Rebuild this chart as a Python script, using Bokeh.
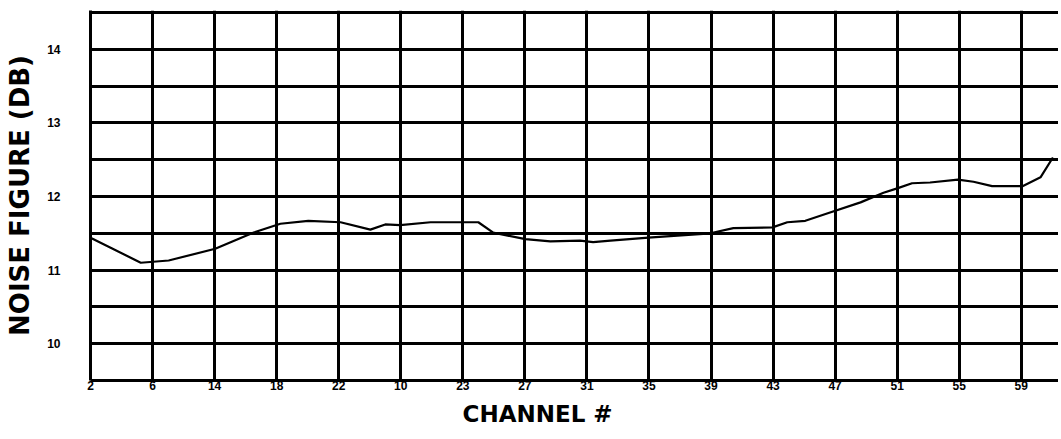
from bokeh.plotting import figure
from bokeh.models import FixedTicker, Range1d, Title
from bokeh.embed import file_html
from bokeh.resources import INLINE

# Channel tick labels (as printed on the chart), one per grid column
channel_labels = ["2", "6", "14", "18", "22", "10", "23", "27", "31",
                  "35", "39", "43", "47", "51", "55", "59"]

# Curve: position along the channel axis (in grid columns) and noise figure (dB)
curve_pos = [0.00, 0.81, 1.26, 2.01, 2.63, 3.06, 3.51, 4.03, 4.51, 4.75, 4.99,
             5.48, 6.25, 6.49, 7.01, 7.41, 7.89, 8.10, 8.38, 8.99, 9.99, 10.36,
             10.99, 11.23, 11.52, 11.87, 12.41, 12.78, 13.00, 13.24, 13.53,
             13.98, 14.23, 14.53, 15.02, 15.31, 15.51]
noise_db = [11.44, 11.10, 11.13, 11.29, 11.51, 11.63, 11.67, 11.65, 11.55, 11.62,
            11.61, 11.65, 11.65, 11.51, 11.42, 11.39, 11.40, 11.38, 11.40, 11.44,
            11.50, 11.57, 11.58, 11.65, 11.67, 11.77, 11.92, 12.05, 12.11, 12.18,
            12.19, 12.23, 12.20, 12.14, 12.14, 12.26, 12.53]

y_major = [10, 11, 12, 13, 14]
y_minor = [9.5, 10.5, 11.5, 12.5, 13.5, 14.5]

p = figure(frame_width=968, frame_height=370,
           x_range=Range1d(0, 15.60), y_range=Range1d(9.5, 14.527),
           output_backend="svg", toolbar_location=None,
           min_border_left=90, min_border_top=10, min_border_right=0,
           min_border_bottom=40)
p.outline_line_color = None
p.background_fill_color = "white"
p.border_fill_color = "white"

p.line(curve_pos, noise_db, line_color="black", line_width=2.2)

# X axis
p.xaxis.ticker = FixedTicker(ticks=list(range(len(channel_labels))))
p.xaxis.major_label_overrides = {i: s for i, s in enumerate(channel_labels)}
p.xaxis.major_tick_out = 0
p.xaxis.major_tick_in = 0
p.xaxis.minor_tick_out = 0
p.xaxis.minor_tick_in = 0
p.xaxis.major_label_standoff = 0
p.xaxis.axis_line_width = 3
p.xaxis.axis_line_color = "black"
p.xaxis.major_label_text_font = "Liberation Sans"
p.xaxis.major_label_text_font_style = "bold"
p.xaxis.major_label_text_font_size = "12px"
p.xaxis.major_label_text_color = "black"

# Y axis
p.yaxis.ticker = FixedTicker(ticks=y_major, minor_ticks=y_minor)
p.yaxis.major_tick_out = 0
p.yaxis.major_tick_in = 0
p.yaxis.minor_tick_out = 0
p.yaxis.minor_tick_in = 0
p.yaxis.major_label_standoff = 30
p.yaxis.axis_line_width = 3
p.yaxis.axis_line_color = "black"
p.yaxis.major_label_text_font = "Liberation Sans"
p.yaxis.major_label_text_font_style = "bold"
p.yaxis.major_label_text_font_size = "12px"
p.yaxis.major_label_text_color = "black"
p.yaxis.axis_label = "NOISE FIGURE (DB)"
p.yaxis.axis_label_text_font = "DejaVu Sans"
p.yaxis.axis_label_text_font_style = "bold"
p.yaxis.axis_label_text_font_size = "26px"
p.yaxis.axis_label_text_color = "black"
p.yaxis.axis_label_standoff = 9

# Grid
p.xgrid.grid_line_color = "black"
p.xgrid.grid_line_width = 3
p.ygrid.grid_line_color = "black"
p.ygrid.grid_line_width = 3
p.ygrid.minor_grid_line_color = "black"
p.ygrid.minor_grid_line_width = 3

# X axis title, offset left of centre as in the reference
p.add_layout(Title(text="CHANNEL #", align="left", offset=372,
                   text_font="DejaVu Sans", text_font_style="bold",
                   text_font_size="23px", text_color="black", standoff=13), "below")

open("out.html", "w").write(file_html(p, INLINE))
